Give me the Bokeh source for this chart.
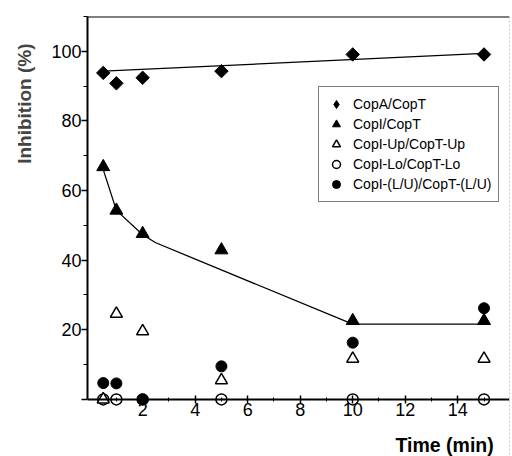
import math
from bokeh.plotting import figure
from bokeh.models import FixedTicker, Range1d, Span, Legend, LegendItem, Label, Title
from bokeh.embed import file_html
from bokeh.resources import INLINE

# ---- data ----
time = [0.5, 1, 2, 5, 10, 15]
copA_copT = [93.8, 90.8, 92.4, 94.3, 99.1, 99.1]
copI_copT = [66.8, 54.3, 47.6, 42.9, 22.6, 22.6]
copI_up = [0, 24.6, 19.6, 5.5, 11.7, 11.7]
copI_lo = [0, 0, 0, 0, 0, 0]
copI_lu = [4.7, 4.6, 0, 9.5, 16.3, 26.2]

fitA_x = [0.5, 15]
fitA_y = [94.3, 99.4]
fitI_x = [0.5, 1, 2, 2.5, 10, 15]
fitI_y = [66.0, 54.3, 47.3, 45.0, 21.6, 21.6]

x_ticks = [2, 4, 6, 8, 10, 12, 14]
x_minor = [1, 3, 5, 7, 9, 11, 13, 15]
y_ticks = [0, 20, 40, 60, 80, 100]
y_minor = [10, 30, 50, 70, 90, 110]

FONT = "Liberation Sans"
X0, X1 = -0.1, 15.97
Y0, Y1 = -16.4, 110

p = figure(width=512, height=456, output_backend="svg", toolbar_location=None,
           x_range=Range1d(X0, X1), y_range=Range1d(Y0, Y1),
           min_border_left=87, min_border_top=16, min_border_right=3,
           min_border_bottom=0)
p.outline_line_color = None
p.grid.visible = False
p.background_fill_color = "white"
p.border_fill_color = "white"

# axes
p.xaxis.fixed_location = 0
p.yaxis.bounds = (0, Y1)
p.xaxis.ticker = FixedTicker(ticks=x_ticks, minor_ticks=x_minor)
p.yaxis.ticker = FixedTicker(ticks=y_ticks, minor_ticks=y_minor)
p.yaxis.major_label_overrides = {0: ""}
for ax in (p.xaxis[0], p.yaxis[0]):
    ax.axis_line_width = 2
    ax.axis_line_color = "black"
    ax.major_tick_line_color = "black"
    ax.minor_tick_line_color = "black"
    ax.major_tick_line_width = 1.5
    ax.major_label_text_font = FONT
    ax.major_label_text_font_size = "18px"
    ax.major_label_text_color = "black"
p.xaxis.major_tick_in = 4
p.xaxis.major_tick_out = 4
p.xaxis.minor_tick_in = 2
p.xaxis.minor_tick_out = 2
p.xaxis.major_label_standoff = 0
p.yaxis.major_tick_in = 0
p.yaxis.major_tick_out = 6
p.yaxis.minor_tick_in = 0
p.yaxis.minor_tick_out = 4
p.yaxis.major_label_standoff = 0

# top border line and faint right border
p.add_layout(Span(location=Y1, dimension="width", line_color="black", line_width=2))
p.add_layout(Span(location=X1, dimension="height", line_color="#9a9a9a",
                  line_width=1, line_dash="2 2"))

# axis titles
p.add_layout(Label(x=15.37, y=-13.1, text="Time (min)", text_align="right",
                   text_baseline="alphabetic", text_font=FONT,
                   text_font_size="19.5px", text_font_style="bold",
                   text_color="black"))
p.add_layout(Title(text="Inhibition (%)", align="right", vertical_align="top",
                   text_font=FONT, text_font_size="19px", text_font_style="bold",
                   offset=27, standoff=24), "left")

# fitted lines
p.line(fitA_x, fitA_y, line_color="black", line_width=1.3)
p.line(fitI_x, fitI_y, line_color="black", line_width=1.3)

# markers
r_lo = p.scatter(time, copI_lo, marker="circle", size=11, fill_color="white",
                 line_color="black", line_width=1.5)
r_up = p.scatter(time, copI_up, marker="triangle", size=12, fill_color="white",
                 line_color="black", line_width=1.5)
r_lu = p.scatter(time, copI_lu, marker="circle", size=11, fill_color="black",
                 line_color="black")
r_i = p.scatter(time, copI_copT, marker="triangle", size=13, fill_color="black",
                line_color="black")
# small diamonds hidden under the rotated squares: they give the legend its diamond
r_a_leg = p.scatter(time, copA_copT, marker="diamond", size=8,
                    fill_color="black", line_color="black")
p.scatter(time, copA_copT, marker="square", angle=math.pi / 4, size=9.5,
          fill_color="black", line_color="black")

legend = Legend(items=[
    LegendItem(label="CopA/CopT", renderers=[r_a_leg]),
    LegendItem(label="CopI/CopT", renderers=[r_i]),
    LegendItem(label="CopI-Up/CopT-Up", renderers=[r_up]),
    LegendItem(label="CopI-Lo/CopT-Lo", renderers=[r_lo]),
    LegendItem(label="CopI-(L/U)/CopT-(L/U)", renderers=[r_lu]),
], location=(231, 254))
legend.label_text_font = FONT
legend.label_text_font_size = "14px"
legend.label_text_color = "black"
legend.border_line_color = "black"
legend.border_line_width = 1.5
legend.padding = 7
legend.spacing = 0
legend.glyph_width = 20
legend.glyph_height = 20
legend.label_height = 20
legend.label_standoff = 7
legend.margin = 0
p.add_layout(legend, "center")

open("out.html", "w").write(file_html(p, INLINE))
